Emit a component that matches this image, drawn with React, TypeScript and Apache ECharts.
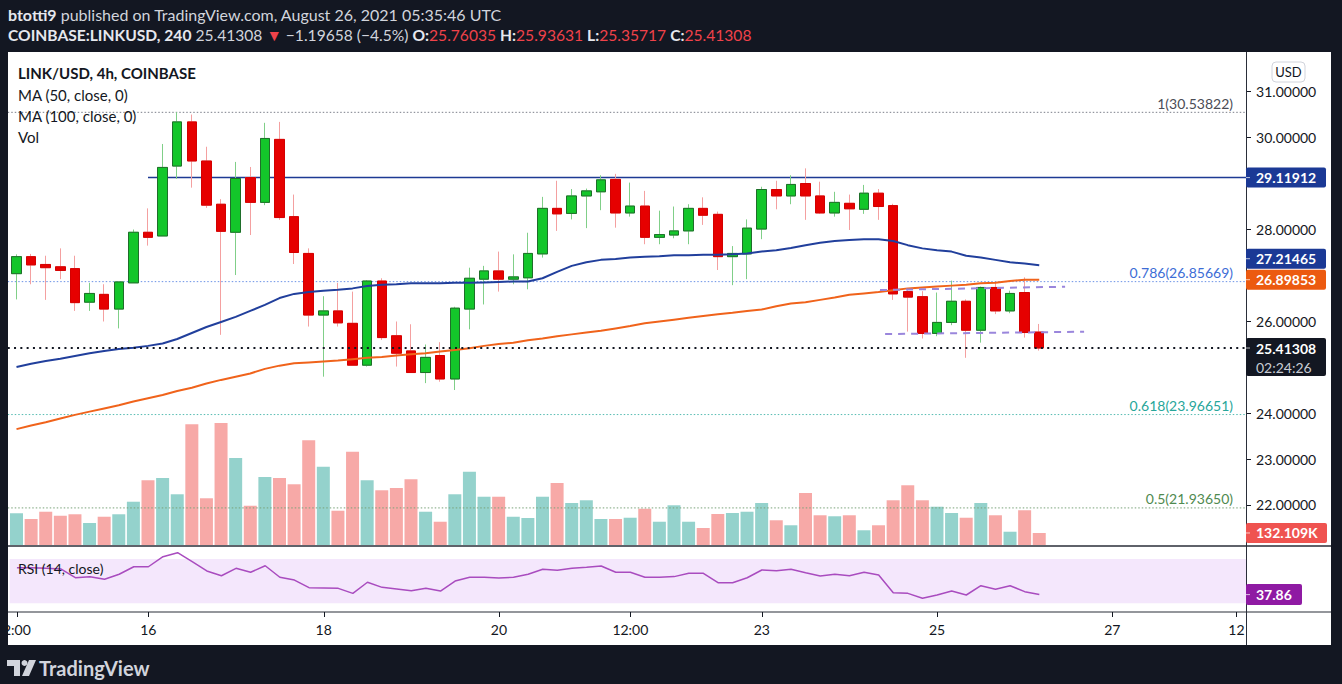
import React, { useEffect, useRef } from "react";
import * as echarts from "echarts";

// ---------- data ----------
const opens = [27.03, 27.40, 27.23, 27.18, 27.14, 26.41, 26.58, 26.26, 26.83, 27.93,
  27.85, 29.37, 30.33, 29.48, 28.54, 27.93, 29.12, 28.58, 29.95, 28.27,
  27.47, 26.13, 26.22, 25.95, 25.04, 26.87, 25.68, 25.35, 24.88, 25.25,
  24.74, 26.26, 26.91, 27.09, 26.91, 26.94, 27.46, 28.45, 28.34, 28.72,
  28.81, 29.08, 28.35, 28.50, 27.82, 27.87, 27.96, 28.45, 28.32, 27.40,
  27.46, 28.00, 28.86, 28.72, 28.99, 28.72, 28.35, 28.56, 28.43, 28.78,
  28.51, 26.64, 26.53, 25.73, 25.97, 26.43, 25.80, 26.73, 26.22, 26.62, 25.76035];
const closes = [27.40, 27.22, 27.16, 27.10, 26.40, 26.60, 26.26, 26.85, 27.93, 27.82,
  29.34, 30.33, 29.48, 28.52, 27.95, 29.10, 28.58, 29.97, 28.25, 27.49,
  26.13, 26.22, 25.96, 25.04, 26.87, 25.64, 25.30, 24.88, 25.21, 24.74,
  26.28, 26.93, 27.09, 26.91, 26.96, 27.47, 28.45, 28.33, 28.72, 28.83,
  29.07, 28.35, 28.50, 27.82, 27.88, 27.96, 28.45, 28.30, 27.40, 27.47,
  28.02, 28.86, 28.72, 28.97, 28.72, 28.35, 28.58, 28.44, 28.78, 28.49,
  26.59, 26.52, 25.73, 25.97, 26.43, 25.80, 26.73, 26.22, 26.60, 25.75, 25.41308];
const lows = [26.47, 26.80, 26.46, 26.91, 26.22, 26.22, 25.99, 25.84, 26.83, 27.64,
  27.85, 29.09, 28.90, 28.46, 25.70, 27.00, 27.87, 28.52, 28.20, 27.24,
  25.88, 24.79, 25.88, 25.04, 25.01, 25.59, 25.01, 24.88, 24.65, 24.68,
  24.50, 25.82, 26.36, 26.64, 26.80, 26.69, 27.38, 27.96, 28.21, 28.02,
  28.41, 28.03, 28.27, 27.67, 27.67, 27.80, 27.67, 28.09, 27.11, 26.78,
  26.91, 27.78, 28.43, 28.54, 28.20, 28.33, 28.27, 27.98, 28.33, 28.20,
  26.46, 25.77, 25.62, 25.67, 25.91, 25.20, 25.53, 26.15, 26.17, 25.64, 25.35717];
const highs = [27.45, 27.46, 27.42, 27.58, 27.42, 26.83, 26.80, 26.85, 27.99, 28.45,
  29.85, 30.54, 30.49, 29.79, 28.65, 29.46, 29.35, 30.31, 30.33, 28.75,
  27.58, 26.54, 26.83, 26.64, 26.89, 26.93, 25.99, 25.93, 25.49, 25.54,
  26.31, 27.16, 27.20, 27.51, 27.45, 27.92, 28.70, 29.05, 28.87, 28.88,
  29.17, 29.20, 29.01, 28.83, 28.40, 28.49, 28.54, 28.69, 28.38, 27.63,
  28.21, 28.92, 29.05, 29.17, 29.32, 29.03, 28.81, 28.75, 28.96, 28.87,
  28.55, 26.68, 26.65, 26.62, 26.88, 26.47, 26.75, 26.83, 26.66, 26.95, 25.93631];
// volume, thousands
const volumes = [349, 286, 366, 322, 338, 242, 311, 338, 476, 712,
  737, 558, 1328, 514, 1342, 957, 432, 748, 737, 668,
  1152, 861, 377, 1026, 712, 602, 627, 723, 366, 256,
  558, 806, 531, 531, 311, 297, 531, 682, 462, 492,
  286, 286, 300, 399, 256, 437, 256, 187, 341, 352,
  366, 462, 272, 217, 572, 327, 316, 327, 162, 217,
  492, 657, 492, 421, 352, 300, 462, 327, 146, 382, 132.109];
const ma50 = [25.00, 25.07, 25.13, 25.18, 25.24, 25.30, 25.35, 25.39, 25.42, 25.46,
  25.51, 25.61, 25.74, 25.87, 25.98, 26.09, 26.22, 26.35, 26.50, 26.59,
  26.63, 26.66, 26.68, 26.71, 26.76, 26.79, 26.80, 26.82, 26.82, 26.82,
  26.83, 26.83, 26.84, 26.85, 26.86, 26.86, 26.93, 27.07, 27.20, 27.28,
  27.33, 27.35, 27.38, 27.40, 27.41, 27.43, 27.43, 27.44, 27.44, 27.45,
  27.47, 27.51, 27.54, 27.59, 27.65, 27.70, 27.74, 27.76, 27.78, 27.78,
  27.74, 27.65, 27.58, 27.54, 27.51, 27.42, 27.38, 27.33, 27.28, 27.25, 27.21465];
const ma100 = [23.65, 23.73, 23.80, 23.88, 23.96, 24.03, 24.10, 24.17, 24.25, 24.32,
  24.39, 24.48, 24.55, 24.64, 24.72, 24.79, 24.86, 24.96, 25.03, 25.08,
  25.10, 25.12, 25.14, 25.17, 25.20, 25.22, 25.25, 25.28, 25.30, 25.34,
  25.37, 25.41, 25.46, 25.50, 25.53, 25.58, 25.62, 25.67, 25.71, 25.75,
  25.79, 25.84, 25.89, 25.95, 25.99, 26.03, 26.07, 26.11, 26.15, 26.18,
  26.22, 26.25, 26.32, 26.38, 26.41, 26.46, 26.51, 26.57, 26.60, 26.63,
  26.67, 26.71, 26.73, 26.75, 26.77, 26.79, 26.82, 26.83, 26.87, 26.90, 26.89853];
const rsi14 = [62.1, 62.0, 61.6, 61.0, 53.1, 54.0, 51.7, 56.2, 63.0, 63.0,
  72.1, 75.7, 67.6, 59.2, 54.9, 61.6, 58.0, 63.9, 53.5, 51.0,
  44.1, 43.8, 43.5, 39.0, 49.0, 44.4, 42.9, 41.4, 43.5, 41.1,
  50.1, 53.5, 53.5, 52.8, 53.5, 56.2, 60.7, 59.8, 61.6, 62.5,
  63.7, 58.0, 58.0, 53.5, 53.5, 54.1, 57.1, 57.1, 48.6, 48.6,
  53.1, 60.1, 59.4, 60.7, 57.6, 54.6, 56.2, 54.9, 58.0, 55.5,
  39.6, 39.0, 34.5, 37.5, 41.1, 37.5, 45.9, 42.6, 45.9, 40.5, 37.86];

const slotCount = 85; // 4h slots shown on the time axis
const startTime = Date.UTC(2021, 7, 14, 12);
const categories = Array.from({ length: slotCount }, (_, i) => {
  const d = new Date(startTime + i * 4 * 3600 * 1000);
  return `${d.getUTCDate()} ${String(d.getUTCHours()).padStart(2, "0")}:00`;
});
const timeTickPositions = [0, 9, 21, 33, 42, 51, 63, 75, 83.5];
const timeTickLabels = ["2:00", "16", "18", "20", "12:00", "23", "25", "27", "12"];
const priceTicks = [22, 23, 24, 26, 28, 30, 31];

const resistanceLevel = 29.11912;
const resistanceStart = 9;
const fibRatios = ["1", "0.786", "0.618", "0.5"];
const fibLevels = [30.53822, 26.85669, 23.96651, 21.9365];
const lastPrice = 25.41308;
const countdown = "02:24:26";
const upperTrend = [[59.1, 26.674], [71.77, 26.746]];
const lowerTrend = [[59.45, 25.717], [73.07, 25.767]];
const rsiBand = [30, 70];

// ---------- styles ----------
const FONT = "Lato, 'Noto Sans', sans-serif";
const UP = "#13c62a";
const DOWN = "#e60000";
const UP_BORDER = "#1f6e2a";
const DOWN_BORDER = "#d40000";
const UP_WICK = "#80cf88";
const DOWN_WICK = "#f4a0a0";
const VOL_UP = "#94d2cc";
const VOL_DOWN = "#f7a9a7";
const MA50_C = "#213f9c";
const MA100_C = "#f0631b";
const FIB_LINE = ["#7a7d88", "#6b92e6", "#54bbb1", "#78a278"];
const FIB_TEXT = ["#4a4c55", "#3d6dd6", "#27a69a", "#4f8a4f"];
const PANE_L = -0.6;
const PANE_R = 84.15;
const AXIS_X = 1246;

export default function App() {
  const ref = useRef<HTMLDivElement>(null);
  useEffect(() => {
    if (!ref.current) return;
    const chart = echarts.init(ref.current, undefined, { renderer: "svg" });
    const fmt5 = (v: number) => v.toFixed(5);
    const hline = (y: number, color: string, width: number, type: any, x0 = PANE_L, x1 = PANE_R) => ({
      type: "line", xAxisIndex: 1, yAxisIndex: 0, symbol: "none", silent: true, z: 4,
      data: [[x0, y], [x1, y]], lineStyle: { color, width, type },
    });
    const option: any = {
      animation: false,
      textStyle: { fontFamily: FONT },
      grid: [
        { left: 9.2, top: 52, width: 1241.9, height: 493 },
        { left: 9.2, top: 395, width: 1241.9, height: 150 },
        { left: 9.2, top: 547, width: 1241.9, height: 65 },
      ],
      xAxis: [
        { type: "category", gridIndex: 0, data: categories, show: false },
        { type: "value", gridIndex: 0, min: -0.5, max: slotCount - 0.5, show: false },
        { type: "category", gridIndex: 1, data: categories, show: false },
        {
          type: "value", gridIndex: 2, min: -0.5, max: slotCount - 0.5,
          splitLine: { show: false }, axisLine: { show: false }, axisTick: { show: false },
          axisLabel: {
            customValues: timeTickPositions, color: "#131722", fontSize: 14, margin: 10, fontFamily: FONT,
            formatter: (v: number) => {
              const k = timeTickPositions.findIndex((p) => Math.abs(p - v) < 1e-6);
              return k >= 0 ? timeTickLabels[k] : "";
            },
          },
        },
      ],
      yAxis: [
        {
          type: "value", gridIndex: 0, position: "right", offset: -5, min: 21.13, max: 31.85,
          splitLine: { show: false }, axisLine: { show: false }, axisTick: { show: false },
          axisLabel: { customValues: priceTicks, formatter: fmt5, color: "#131722", fontSize: 14, margin: 10, fontFamily: FONT },
        },
        { type: "value", gridIndex: 1, min: 0, max: 1650, show: false },
        { type: "value", gridIndex: 2, min: 22.15, max: 80.83, show: false },
      ],
      series: [
        {
          type: "bar", xAxisIndex: 2, yAxisIndex: 1, barWidth: 13, silent: true, z: 1,
          data: volumes.map((v, i) => ({ value: v, itemStyle: { color: closes[i] >= opens[i] ? VOL_UP : VOL_DOWN } })),
        },
        hline(fibLevels[0], FIB_LINE[0], 1, [1.5, 2]),
        hline(fibLevels[1], FIB_LINE[1], 1, [1.5, 2]),
        hline(fibLevels[2], FIB_LINE[2], 1, [1.5, 2]),
        hline(fibLevels[3], FIB_LINE[3], 1, [1.5, 2]),
        hline(resistanceLevel, "#1d3a94", 1.5, "solid", resistanceStart),
        {
          type: "candlestick", xAxisIndex: 0, yAxisIndex: 0, barWidth: 10, z: 5,
          data: opens.map((o, i) => [o, closes[i], lows[i], highs[i]]),
          itemStyle: { color: UP, color0: DOWN, borderColor: UP_WICK, borderColor0: DOWN_WICK, borderWidth: 1 },
        },
        {
          type: "candlestick", xAxisIndex: 0, yAxisIndex: 0, barWidth: 10, z: 6,
          data: opens.map((o, i) => [o, closes[i], Math.min(o, closes[i]), Math.max(o, closes[i])]),
          itemStyle: { color: UP, color0: DOWN, borderColor: UP_BORDER, borderColor0: DOWN_BORDER, borderWidth: 1 },
        },
        {
          type: "line", xAxisIndex: 0, yAxisIndex: 0, data: ma100, symbol: "none", z: 7,
          lineStyle: { color: MA100_C, width: 2 },
        },
        {
          type: "line", xAxisIndex: 0, yAxisIndex: 0, data: ma50, symbol: "none", z: 7,
          lineStyle: { color: MA50_C, width: 2 },
        },
        {
          type: "line", xAxisIndex: 1, yAxisIndex: 0, data: upperTrend, symbol: "none", z: 8,
          lineStyle: { color: "#9a86dc", width: 2, type: [7, 6] },
        },
        {
          type: "line", xAxisIndex: 1, yAxisIndex: 0, data: lowerTrend, symbol: "none", z: 8,
          lineStyle: { color: "#9a86dc", width: 2, type: [7, 6] },
        },
        { ...hline(lastPrice, "#131722", 2, [2, 4.3]), z: 9 },
        {
          type: "line", xAxisIndex: 3, yAxisIndex: 2, symbol: "none", z: 5,
          data: rsi14.map((v, i) => [i, v]),
          lineStyle: { color: "#a94cbf", width: 1.5 },
          markArea: {
            silent: true, itemStyle: { color: "#f4e7fc" },
            data: [[{ coord: [PANE_L, rsiBand[0]] }, { coord: [PANE_R, rsiBand[1]] }]],
          },
          markLine: {
            silent: true, symbol: "none", label: { show: false },
            lineStyle: { color: "#b9b6c6", type: [5, 5], width: 1 },
            data: rsiBand.map((b) => [{ coord: [PANE_L, b] }, { coord: [PANE_R, b] }]),
          },
        },
      ],
    };
    chart.setOption(option);

    const py = (v: number) => chart.convertToPixel({ yAxisIndex: 0 }, v) as number;
    const vy = (v: number) => chart.convertToPixel({ yAxisIndex: 1 }, v) as number;
    const ry = (v: number) => chart.convertToPixel({ yAxisIndex: 2 }, v) as number;
    const tx = (v: number) => chart.convertToPixel({ xAxisIndex: 3 }, v) as number;

    const box = (yc: number, text: string, bg: string, w = 80, h = 20) => [
      { type: "rect", z: 100, shape: { x: AXIS_X, y: yc - h / 2, width: w, height: h, r: 2 }, style: { fill: bg } },
      { type: "line", z: 101, shape: { x1: AXIS_X, y1: yc, x2: AXIS_X + 4, y2: yc }, style: { stroke: "rgba(255,255,255,0.7)", lineWidth: 1 } },
      {
        type: "text", z: 101, x: AXIS_X + 10, y: yc,
        style: { text, fill: "#ffffff", fontSize: 14, fontWeight: "bold", fontFamily: FONT, verticalAlign: "middle", align: "left" },
      },
    ];

    const y100 = py(ma100[ma100.length - 1]);
    let y50 = py(ma50[ma50.length - 1]);
    if (y50 > y100 - 21) y50 = y100 - 21;
    const yLast = py(lastPrice);

    const txt = (x: number, y: number, text: string, extra: any = {}) => ({
      type: "text", z: 100, x, y,
      style: { text, fill: "#131722", fontSize: 15, fontFamily: FONT, verticalAlign: "middle", align: "left", ...extra },
    });

    const H2 = 15.6;
    const elements: any[] = [
      // pane borders
      { type: "line", z: 90, shape: { x1: AXIS_X + 0.5, y1: 52, x2: AXIS_X + 0.5, y2: 645 }, style: { stroke: "#2a2e39", lineWidth: 1 } },
      { type: "line", z: 90, shape: { x1: 8, y1: 546, x2: 1331, y2: 546 }, style: { stroke: "#2a2e39", lineWidth: 1.5 } },
      { type: "line", z: 90, shape: { x1: 8, y1: 612, x2: 1331, y2: 612 }, style: { stroke: "#2a2e39", lineWidth: 1.2 } },
      // price axis ticks
      ...priceTicks.map((t) => ({
        type: "line", z: 90, shape: { x1: AXIS_X + 1, y1: Math.round(py(t)) + 0.5, x2: AXIS_X + 5, y2: Math.round(py(t)) + 0.5 },
        style: { stroke: "#131722", lineWidth: 1 },
      })),
      // time axis ticks
      ...timeTickPositions.map((t) => ({
        type: "line", z: 90, shape: { x1: Math.round(tx(t)) + 0.5, y1: 612, x2: Math.round(tx(t)) + 0.5, y2: 617 },
        style: { stroke: "#131722", lineWidth: 1 },
      })),
      // legend
      txt(18, 73, "LINK/USD, 4h, COINBASE", { fontWeight: "bold" }),
      txt(18, 95, "MA (50, close, 0)"),
      txt(18, 116, "MA (100, close, 0)"),
      txt(18, 137, "Vol"),
      txt(18, 568, "RSI (14, close)", { fontSize: 14 }),
      // fib labels
      ...fibLevels.map((lv, k) => ({
        type: "text", z: 100, x: 1233, y: py(lv) - 2,
        style: { text: `${fibRatios[k]}(${lv.toFixed(5)})`, fill: FIB_TEXT[k], fontSize: 14, fontFamily: FONT, align: "right", verticalAlign: "bottom" },
      })),
      // USD
      { type: "rect", z: 100, shape: { x: 1272, y: 62, width: 33, height: 20, r: 4 }, style: { fill: "#ffffff", stroke: "#d1d4dc", lineWidth: 1 } },
      { type: "text", z: 101, x: 1288.5, y: 72, style: { text: "USD", fill: "#131722", fontSize: 13, fontFamily: FONT, align: "center", verticalAlign: "middle" } },
      // price boxes
      ...box(py(resistanceLevel), resistanceLevel.toFixed(5), "#1b3995"),
      ...box(y50, ma50[ma50.length - 1].toFixed(5), "#1b3995"),
      ...box(y100, ma100[ma100.length - 1].toFixed(5), "#ec5a10"),
      { type: "rect", z: 100, shape: { x: AXIS_X, y: yLast - 10, width: 80, height: 38, r: 2 }, style: { fill: "#131722" } },
      { type: "line", z: 101, shape: { x1: AXIS_X, y1: yLast, x2: AXIS_X + 4, y2: yLast }, style: { stroke: "rgba(255,255,255,0.7)", lineWidth: 1 } },
      { type: "text", z: 101, x: AXIS_X + 10, y: yLast, style: { text: lastPrice.toFixed(5), fill: "#ffffff", fontSize: 14, fontWeight: "bold", fontFamily: FONT, verticalAlign: "middle" } },
      { type: "text", z: 101, x: AXIS_X + 10, y: yLast + 19, style: { text: countdown, fill: "#c9ccd4", fontSize: 14, fontFamily: FONT, verticalAlign: "middle" } },
      ...box(vy(volumes[volumes.length - 1]), `${volumes[volumes.length - 1].toFixed(3)}K`, "#ef5350", 81),
      ...box(ry(rsi14[rsi14.length - 1]), rsi14[rsi14.length - 1].toFixed(2), "#8f1aa3", 56, 21),
      // header
      {
        type: "text", z: 100, x: 8, y: 14,
        style: {
          text: "{b|btotti9} published on TradingView.com, August 26, 2021 05:35:46 UTC",
          fill: "#d1d4dc", fontSize: 16, fontFamily: FONT, verticalAlign: "middle",
          rich: { b: { fontWeight: "bold", fill: "#e6e8ee", fontSize: 16, fontFamily: FONT } },
        },
      },
      {
        type: "text", z: 100, x: 8, y: 35,
        style: {
          text: "{b|COINBASE:LINKUSD, 240} 25.41308 {r|▼} −1.19658 (−4.5%) {b|O:}{r|25.76035} {b|H:}{r|25.93631} {b|L:}{r|25.35717} {b|C:}{r|25.41308}",
          fill: "#d1d4dc", fontSize: H2, fontFamily: FONT, verticalAlign: "middle",
          rich: {
            b: { fontWeight: "bold", fill: "#e6e8ee", fontSize: H2, fontFamily: FONT },
            r: { fill: "#f0424a", fontSize: H2, fontFamily: FONT },
          },
        },
      },
      // logo
      { type: "polygon", z: 100, shape: { points: [[7, 660], [20, 660], [20, 676], [14, 676], [14, 666], [7, 666]] }, style: { fill: "#d1d4dc" } },
      { type: "circle", z: 100, shape: { cx: 24.5, cy: 663, r: 3 }, style: { fill: "#d1d4dc" } },
      { type: "polygon", z: 100, shape: { points: [[29, 660], [36, 660], [29, 676], [22, 676]] }, style: { fill: "#d1d4dc" } },
      { type: "text", z: 100, x: 39, y: 668, style: { text: "TradingView", fill: "#d1d4dc", fontSize: 20, fontWeight: "bold", fontFamily: FONT, verticalAlign: "middle" } },
    ];
    chart.setOption({ graphic: { elements } });
    return () => chart.dispose();
  }, []);

  return (
    <div style={{ position: "fixed", left: 0, top: 0, width: 1342, height: 684, background: "#131722" }}>
      <div style={{ position: "absolute", left: 8, top: 52, width: 1323, height: 593, background: "#ffffff" }} />
      <div ref={ref} style={{ position: "absolute", left: 0, top: 0, width: 1342, height: 684 }} />
    </div>
  );
}
